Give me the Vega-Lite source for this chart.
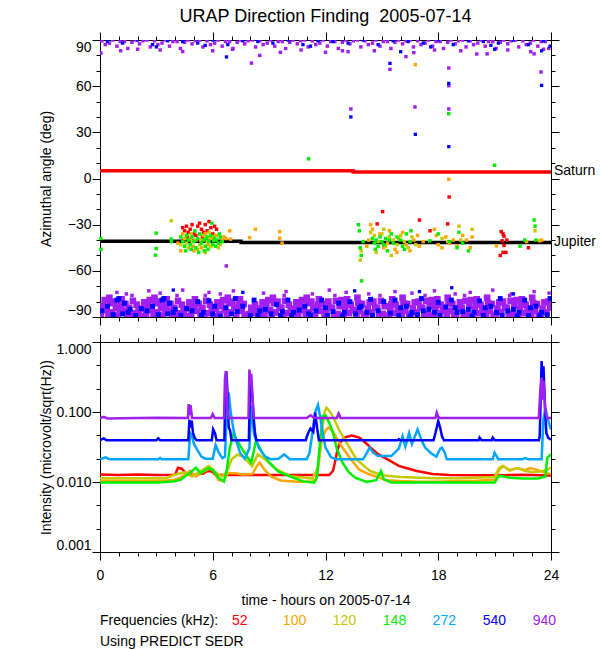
{
  "$schema": "https://vega.github.io/schema/vega-lite/v6.json",
  "background": "white",
  "padding": {"left": 38, "top": 7, "right": 0, "bottom": 0},
  "spacing": 7,
  "config": {
    "font": "Liberation Sans",
    "view": {"stroke": null},
    "axis": {"domainColor": "black", "tickColor": "black", "labelColor": "black", "titleColor": "black", "labelFont": "Liberation Sans", "titleFont": "Liberation Sans", "labelFontSize": 14, "titleFontSize": 14, "titleFontWeight": "normal", "grid": false, "domainWidth": 1, "tickWidth": 1},
    "title": {"font": "Liberation Sans", "fontSize": 18, "fontWeight": "normal", "color": "black"},
    "text": {"font": "Liberation Sans"}
  },
  "datasets": {
    "p940": [
      {"t":0.05,"a":-88},{"t":0.15,"a":-83},{"t":0.25,"a":-79},
      {"t":0.35,"a":-85.5},{"t":0.45,"a":-89.5},{"t":0.55,"a":-81},{"t":0.5,"a":-77.5},
      {"t":0.65,"a":-87},{"t":0.75,"a":-80},{"t":0.85,"a":-84},
      {"t":0.95,"a":-89},{"t":1.05,"a":-85},{"t":1.15,"a":-78.5},{"t":1.1,"a":-82},
      {"t":1.25,"a":-86},{"t":1.35,"a":-81.5},{"t":1.45,"a":-88.5},
      {"t":1.55,"a":-84},{"t":1.65,"a":-89},{"t":1.75,"a":-79.5},{"t":1.7,"a":-76},
      {"t":1.85,"a":-87.5},{"t":1.95,"a":-82},{"t":2.05,"a":-85.5},
      {"t":2.15,"a":-89.5},{"t":2.25,"a":-84.5},{"t":2.35,"a":-80.5},
      {"t":2.45,"a":-88},{"t":2.55,"a":-83},{"t":2.65,"a":-79},
      {"t":2.75,"a":-85.5},{"t":2.85,"a":-89.5},{"t":2.95,"a":-81},{"t":2.9,"a":-77.5},
      {"t":3.05,"a":-87},{"t":3.15,"a":-80},{"t":3.25,"a":-84},
      {"t":3.35,"a":-89},{"t":3.45,"a":-85},{"t":3.55,"a":-78.5},{"t":3.5,"a":-82},
      {"t":3.65,"a":-86},{"t":3.75,"a":-81.5},{"t":3.85,"a":-88.5},
      {"t":3.95,"a":-84},{"t":4.05,"a":-89},{"t":4.15,"a":-79.5},{"t":4.1,"a":-76},
      {"t":4.25,"a":-87.5},{"t":4.35,"a":-82},{"t":4.45,"a":-85.5},
      {"t":4.55,"a":-89.5},{"t":4.65,"a":-84.5},{"t":4.75,"a":-80.5},
      {"t":4.85,"a":-89},{"t":4.95,"a":-85},{"t":5.05,"a":-78.5},{"t":5.0,"a":-82},
      {"t":5.15,"a":-86},{"t":5.25,"a":-81.5},{"t":5.35,"a":-88.5},
      {"t":5.45,"a":-84},{"t":5.55,"a":-89},{"t":5.65,"a":-79.5},{"t":5.6,"a":-76},
      {"t":5.75,"a":-87.5},{"t":5.85,"a":-82},{"t":5.95,"a":-85.5},
      {"t":6.05,"a":-89.5},{"t":6.15,"a":-84.5},{"t":6.25,"a":-80.5},
      {"t":6.35,"a":-88},{"t":6.45,"a":-83},{"t":6.55,"a":-79},
      {"t":6.65,"a":-85.5},{"t":6.75,"a":-89.5},{"t":6.85,"a":-81},{"t":6.8,"a":-77.5},
      {"t":6.95,"a":-87},{"t":7.05,"a":-80},{"t":7.15,"a":-84},
      {"t":7.25,"a":-89},{"t":7.35,"a":-85},{"t":7.45,"a":-78.5},{"t":7.4,"a":-82},
      {"t":7.55,"a":-86},{"t":7.65,"a":-81.5},{"t":7.7,"a":-88.5},
      {"t":7.95,"a":-88},{"t":8.05,"a":-84},
      {"t":8.15,"a":-87.5},{"t":8.25,"a":-82},{"t":8.35,"a":-85.5},
      {"t":8.45,"a":-89.5},{"t":8.55,"a":-84.5},{"t":8.65,"a":-80.5},
      {"t":8.75,"a":-88},{"t":8.85,"a":-83},{"t":8.95,"a":-79},
      {"t":9.05,"a":-85.5},{"t":9.15,"a":-89.5},{"t":9.25,"a":-81},{"t":9.2,"a":-77.5},
      {"t":9.35,"a":-87},{"t":9.45,"a":-80},{"t":9.55,"a":-84},
      {"t":9.65,"a":-84},{"t":9.75,"a":-89},{"t":9.85,"a":-79.5},{"t":9.8,"a":-76},
      {"t":9.95,"a":-87.5},{"t":10.05,"a":-82},{"t":10.15,"a":-85.5},
      {"t":10.25,"a":-89.5},{"t":10.35,"a":-84.5},{"t":10.45,"a":-80.5},
      {"t":10.55,"a":-88},{"t":10.65,"a":-83},{"t":10.75,"a":-79},
      {"t":10.85,"a":-85.5},{"t":10.95,"a":-89.5},{"t":11.05,"a":-81},{"t":11.0,"a":-77.5},
      {"t":11.15,"a":-87},{"t":11.25,"a":-80},{"t":11.35,"a":-84},
      {"t":11.45,"a":-89},{"t":11.55,"a":-85},{"t":11.65,"a":-78.5},{"t":11.6,"a":-82},
      {"t":11.75,"a":-86},{"t":11.85,"a":-81.5},{"t":11.95,"a":-88.5},
      {"t":12.05,"a":-87},{"t":12.15,"a":-80},{"t":12.25,"a":-84},
      {"t":12.35,"a":-84},{"t":12.45,"a":-89},{"t":12.55,"a":-79.5},{"t":12.5,"a":-76},
      {"t":12.65,"a":-88},{"t":12.75,"a":-83},{"t":12.85,"a":-79},
      {"t":12.95,"a":-89},{"t":13.05,"a":-85},{"t":13.15,"a":-78.5},{"t":13.1,"a":-82},
      {"t":13.25,"a":-87.5},{"t":13.35,"a":-82},{"t":13.45,"a":-85.5},
      {"t":13.55,"a":-85.5},{"t":13.65,"a":-89.5},{"t":13.75,"a":-81},{"t":13.7,"a":-77.5},
      {"t":13.85,"a":-86},{"t":13.95,"a":-81.5},{"t":14.05,"a":-88.5},
      {"t":14.15,"a":-89.5},{"t":14.25,"a":-84.5},{"t":14.35,"a":-80.5},
      {"t":14.45,"a":-87},{"t":14.55,"a":-80},{"t":14.65,"a":-84},
      {"t":14.75,"a":-84},{"t":14.85,"a":-89},{"t":14.95,"a":-79.5},{"t":14.9,"a":-76},
      {"t":15.05,"a":-88},{"t":15.15,"a":-83},
      {"t":15.4,"a":-89},{"t":15.45,"a":-85},{"t":15.55,"a":-78.5},{"t":15.5,"a":-82},
      {"t":15.65,"a":-87.5},{"t":15.75,"a":-82},{"t":15.85,"a":-85.5},
      {"t":15.95,"a":-85.5},{"t":16.05,"a":-89.5},{"t":16.15,"a":-81},{"t":16.1,"a":-77.5},
      {"t":16.25,"a":-86},{"t":16.35,"a":-81.5},{"t":16.45,"a":-88.5},
      {"t":16.55,"a":-89.5},{"t":16.65,"a":-84.5},{"t":16.75,"a":-80.5},
      {"t":16.85,"a":-87},{"t":16.95,"a":-80},{"t":17.05,"a":-84},
      {"t":17.15,"a":-84},{"t":17.25,"a":-89},{"t":17.35,"a":-79.5},{"t":17.3,"a":-76},
      {"t":17.45,"a":-88},{"t":17.55,"a":-83},{"t":17.65,"a":-79},
      {"t":17.75,"a":-89},{"t":17.85,"a":-85},{"t":17.95,"a":-78.5},{"t":17.9,"a":-82},
      {"t":18.05,"a":-87.5},{"t":18.15,"a":-82},{"t":18.25,"a":-85.5},
      {"t":18.35,"a":-85.5},{"t":18.45,"a":-89.5},{"t":18.55,"a":-81},{"t":18.5,"a":-77.5},
      {"t":18.65,"a":-86},{"t":18.75,"a":-81.5},{"t":18.85,"a":-88.5},
      {"t":18.95,"a":-89.5},{"t":19.05,"a":-84.5},{"t":19.15,"a":-80.5},
      {"t":19.25,"a":-84},{"t":19.35,"a":-89},{"t":19.45,"a":-79.5},{"t":19.4,"a":-76},
      {"t":19.55,"a":-88},{"t":19.65,"a":-83},{"t":19.75,"a":-79},
      {"t":19.85,"a":-89},{"t":19.95,"a":-85},{"t":20.05,"a":-78.5},{"t":20.0,"a":-82},
      {"t":20.15,"a":-87.5},{"t":20.25,"a":-82},{"t":20.35,"a":-85.5},
      {"t":20.45,"a":-85.5},{"t":20.55,"a":-89.5},{"t":20.65,"a":-81},{"t":20.6,"a":-77.5},
      {"t":20.75,"a":-86},{"t":20.85,"a":-81.5},{"t":20.95,"a":-88.5},
      {"t":21.05,"a":-89.5},{"t":21.15,"a":-84.5},{"t":21.25,"a":-80.5},
      {"t":21.35,"a":-87},{"t":21.45,"a":-80},{"t":21.55,"a":-84},
      {"t":21.65,"a":-84},{"t":21.75,"a":-89},{"t":21.85,"a":-79.5},{"t":21.8,"a":-76},
      {"t":21.95,"a":-88},{"t":22.05,"a":-83},{"t":22.15,"a":-79},
      {"t":22.25,"a":-89},{"t":22.35,"a":-85},{"t":22.45,"a":-78.5},{"t":22.4,"a":-82},
      {"t":22.55,"a":-87.5},{"t":22.65,"a":-82},{"t":22.75,"a":-85.5},
      {"t":22.85,"a":-85.5},{"t":22.95,"a":-89.5},{"t":23.05,"a":-81},{"t":23.0,"a":-77.5},
      {"t":23.15,"a":-86},{"t":23.25,"a":-81.5},{"t":23.35,"a":-88.5},
      {"t":23.45,"a":-89.5},{"t":23.55,"a":-84.5},{"t":23.65,"a":-80.5},
      {"t":23.75,"a":-87},{"t":23.85,"a":-80},{"t":23.95,"a":-84},
      {"t":0.9,"a":-74},{"t":1.4,"a":-75},{"t":2.6,"a":-73},{"t":3.2,"a":-74.5},{"t":4.4,"a":-72.5},{"t":5.8,"a":-74},{"t":6.4,"a":-75},{"t":7.1,"a":-73},{"t":8.7,"a":-74.5},{"t":9.9,"a":-73.5},{"t":11.3,"a":-75},{"t":12.2,"a":-72.5},{"t":13.1,"a":-74},{"t":14.3,"a":-75},{"t":15.7,"a":-73.5},{"t":16.6,"a":-74.5},{"t":17.8,"a":-73},{"t":18.9,"a":-75},{"t":19.7,"a":-74},{"t":20.9,"a":-72.5},{"t":21.9,"a":-75},{"t":23.1,"a":-73.5},{"t":23.9,"a":-74.5},
      {"t":6.72,"a":-56.8},
      {"t":0.1,"a":89.5},{"t":0.28,"a":87},{"t":0.5,"a":88},{"t":0.68,"a":90},{"t":0.9,"a":86},{"t":1.08,"a":89},{"t":1.3,"a":89},{"t":1.48,"a":84.5},
      {"t":1.7,"a":88.5},{"t":1.88,"a":90},{"t":2.1,"a":87.5},{"t":2.28,"a":89.5},{"t":2.5,"a":90},{"t":2.68,"a":85.5},{"t":2.9,"a":89.5},{"t":3.08,"a":87},
      {"t":3.3,"a":88},{"t":3.48,"a":90},{"t":3.7,"a":86},{"t":3.88,"a":89},{"t":4.1,"a":89},{"t":4.28,"a":84.5},{"t":4.5,"a":88.5},{"t":4.68,"a":90},
      {"t":4.9,"a":87.5},{"t":5.08,"a":89.5},{"t":5.3,"a":90},{"t":5.48,"a":85.5},{"t":5.7,"a":89.5},{"t":5.88,"a":87},{"t":6.1,"a":88},{"t":6.28,"a":90},
      {"t":6.5,"a":86},{"t":6.68,"a":89},{"t":6.9,"a":89},{"t":7.08,"a":84.5},{"t":7.3,"a":88.5},{"t":7.48,"a":90},{"t":7.7,"a":87.5},{"t":7.88,"a":89.5},
      {"t":8.1,"a":90},{"t":8.28,"a":85.5},{"t":8.5,"a":89.5},{"t":8.68,"a":87},{"t":8.9,"a":88},{"t":9.08,"a":90},{"t":9.3,"a":86},{"t":9.48,"a":89},
      {"t":9.7,"a":89},{"t":9.88,"a":84.5},{"t":10.1,"a":88.5},{"t":10.28,"a":90},{"t":10.5,"a":87.5},{"t":10.68,"a":89.5},{"t":10.9,"a":90},{"t":11.08,"a":85.5},
      {"t":11.3,"a":89.5},{"t":11.48,"a":87},{"t":11.7,"a":88},{"t":11.88,"a":90},{"t":12.1,"a":86},{"t":12.28,"a":89},{"t":12.5,"a":89},{"t":12.68,"a":84.5},
      {"t":12.9,"a":88.5},{"t":13.08,"a":90},{"t":13.3,"a":87.5},{"t":13.48,"a":89.5},{"t":13.7,"a":90},{"t":13.88,"a":85.5},{"t":14.1,"a":89.5},{"t":14.28,"a":87},
      {"t":14.5,"a":88},{"t":14.68,"a":90},{"t":14.9,"a":86},{"t":15.08,"a":89},{"t":15.3,"a":89},{"t":15.48,"a":84.5},{"t":15.7,"a":88.5},{"t":15.88,"a":90},
      {"t":16.1,"a":87.5},{"t":16.28,"a":89.5},{"t":16.5,"a":90},{"t":16.68,"a":85.5},{"t":16.9,"a":89.5},{"t":17.08,"a":87},{"t":17.3,"a":88},{"t":17.48,"a":90},
      {"t":17.7,"a":86},{"t":17.88,"a":89},{"t":18.1,"a":89},{"t":18.28,"a":84.5},{"t":18.5,"a":88.5},{"t":18.68,"a":90},{"t":18.9,"a":87.5},{"t":19.08,"a":89.5},
      {"t":19.3,"a":90},{"t":19.48,"a":85.5},{"t":19.7,"a":89.5},{"t":19.88,"a":87},{"t":20.1,"a":88},{"t":20.28,"a":90},{"t":20.5,"a":86},{"t":20.68,"a":89},
      {"t":20.9,"a":89},{"t":21.08,"a":84.5},{"t":21.3,"a":88.5},{"t":21.48,"a":90},{"t":21.7,"a":87.5},{"t":21.88,"a":89.5},{"t":22.1,"a":90},{"t":22.28,"a":85.5},
      {"t":22.5,"a":89.5},{"t":22.68,"a":87},{"t":22.9,"a":88},{"t":23.08,"a":90},{"t":23.3,"a":86},{"t":23.48,"a":89},{"t":23.7,"a":89},{"t":23.88,"a":84.5},
      {"t":0.05,"a":81.5},{"t":1.1,"a":83},{"t":2.0,"a":84},{"t":3.2,"a":83.5},{"t":4.4,"a":82.5},{"t":6.0,"a":83},{"t":7.05,"a":84},{"t":8.06,"a":75},{"t":8.5,"a":80},{"t":9.6,"a":82},{"t":10.7,"a":83.5},{"t":12.0,"a":82},{"t":12.9,"a":83},{"t":13.2,"a":82.4},{"t":14.6,"a":83},{"t":15.43,"a":70.9},{"t":16.28,"a":79.2},{"t":16.7,"a":81.8},{"t":17.8,"a":83.5},{"t":18.56,"a":71.8},{"t":18.56,"a":60.3},{"t":19.2,"a":83},{"t":20.05,"a":80.9},{"t":20.6,"a":81},{"t":21.7,"a":83.5},{"t":22.92,"a":82.4},{"t":23.47,"a":69.2},{"t":23.6,"a":84},{"t":13.35,"a":45.2},{"t":16.76,"a":46.5},{"t":18.56,"a":45.2},{"t":23.1,"a":81}
    ],
    "p540": [
      {"t":0.1,"a":-86},{"t":0.4,"a":-83},{"t":0.7,"a":-88.5},{"t":0.9,"a":-79},{"t":1.0,"a":-78},{"t":1.2,"a":-88},{"t":1.3,"a":-81},{"t":1.5,"a":-87},{"t":1.6,"a":-85},{"t":1.9,"a":-89},{"t":2.2,"a":-84.5},{"t":2.5,"a":-86},{"t":2.8,"a":-83},{"t":3.1,"a":-88.5},{"t":3.3,"a":-79},{"t":3.4,"a":-78},{"t":3.6,"a":-88},{"t":3.7,"a":-81},{"t":3.9,"a":-87},{"t":4.0,"a":-85},
      {"t":4.3,"a":-89},{"t":4.6,"a":-84.5},{"t":4.9,"a":-86},{"t":5.2,"a":-80},{"t":5.4,"a":-89},{"t":5.5,"a":-87},{"t":5.8,"a":-79.5},{"t":6.0,"a":-88},{"t":6.1,"a":-83},{"t":6.4,"a":-89.5},{"t":6.7,"a":-84},{"t":7.0,"a":-88},{"t":7.2,"a":-78},{"t":7.3,"a":-86.5},{"t":7.6,"a":-83},{"t":8.0,"a":-89},{"t":8.2,"a":-79},{"t":8.4,"a":-89},{"t":8.5,"a":-86},{"t":8.8,"a":-85},
      {"t":9.1,"a":-88},{"t":9.4,"a":-82},{"t":9.6,"a":-89},{"t":9.7,"a":-86.5},{"t":10.0,"a":-79},{"t":10.2,"a":-89},{"t":10.3,"a":-87},{"t":10.6,"a":-85.5},{"t":10.9,"a":-83},{"t":11.1,"a":-88},{"t":11.2,"a":-89},{"t":11.5,"a":-86},{"t":11.8,"a":-79},{"t":12.0,"a":-84},{"t":12.1,"a":-89},{"t":12.4,"a":-86.5},{"t":12.7,"a":-81},{"t":12.9,"a":-89.5},{"t":13.0,"a":-87},{"t":13.3,"a":-80},
      {"t":13.6,"a":-88},{"t":13.8,"a":-84},{"t":13.9,"a":-83},{"t":14.2,"a":-87},{"t":14.4,"a":-78.5},{"t":14.5,"a":-89},{"t":14.8,"a":-86},{"t":15.1,"a":-80},{"t":15.45,"a":-87.5},{"t":15.7,"a":-79},{"t":15.9,"a":-89},{"t":16.0,"a":-84},{"t":16.3,"a":-83},{"t":16.5,"a":-89.5},{"t":16.6,"a":-87},{"t":16.9,"a":-88.5},{"t":17.1,"a":-78},{"t":17.2,"a":-86},{"t":17.5,"a":-85},{"t":17.8,"a":-87},
      {"t":18.0,"a":-80.5},{"t":18.1,"a":-89},{"t":18.4,"a":-83.5},{"t":18.7,"a":-79},{"t":18.9,"a":-84},{"t":19.0,"a":-87},{"t":19.3,"a":-86.5},{"t":19.6,"a":-85},{"t":19.8,"a":-89.5},{"t":19.9,"a":-87},{"t":20.2,"a":-79.5},{"t":20.4,"a":-89},{"t":20.5,"a":-84},{"t":20.8,"a":-83},{"t":21.1,"a":-87},{"t":21.3,"a":-78},{"t":21.4,"a":-89},{"t":21.7,"a":-86},{"t":22.0,"a":-85},{"t":22.2,"a":-89.5},
      {"t":22.3,"a":-87},{"t":22.6,"a":-79},{"t":22.8,"a":-89},{"t":22.9,"a":-84},{"t":23.2,"a":-83},{"t":23.4,"a":-89},{"t":23.5,"a":-87},{"t":23.8,"a":-88.5},{"t":23.95,"a":-78},
      {"t":3.9,"a":-72.5},{"t":7.6,"a":-74},{"t":13.55,"a":-73},{"t":17.0,"a":-73.5},{"t":18.72,"a":-71},{"t":22.0,"a":-75},
      {"t":0.4,"a":89},{"t":1.2,"a":88},{"t":2.0,"a":90},{"t":2.8,"a":87},{"t":3.6,"a":89.5},{"t":4.4,"a":89},{"t":5.2,"a":88},{"t":6.0,"a":90},{"t":6.8,"a":87},{"t":7.6,"a":89.5},{"t":8.4,"a":89},{"t":9.2,"a":88},{"t":10.0,"a":90},{"t":10.8,"a":87},{"t":11.6,"a":89.5},
      {"t":12.4,"a":89},{"t":13.2,"a":88},{"t":14.0,"a":90},{"t":14.8,"a":87},{"t":15.6,"a":89.5},{"t":16.4,"a":89},{"t":17.2,"a":88},{"t":18.0,"a":90},{"t":18.8,"a":87},{"t":19.6,"a":89.5},{"t":20.4,"a":89},{"t":21.2,"a":88},{"t":22.0,"a":90},{"t":22.8,"a":87},{"t":23.6,"a":89.5},{"t":23.95,"a":86},
      {"t":6.73,"a":79},{"t":15.43,"a":74.8},{"t":16.0,"a":82.4},{"t":18.56,"a":61.8},{"t":21.0,"a":84},{"t":23.5,"a":83},{"t":23.5,"a":60.5},{"t":13.35,"a":40},{"t":16.78,"a":28.7},{"t":18.56,"a":20.7},{"t":11.2,"a":86},{"t":5.6,"a":86.5},{"t":17.6,"a":85.5},{"t":20.8,"a":86.5},{"t":3.0,"a":85.5}
    ],
    "cl": [
      {"f":"52","t":4.4,"a":-32},{"f":"52","t":4.5,"a":-34},{"f":"52","t":4.6,"a":-31},{"f":"52","t":4.7,"a":-35},{"f":"52","t":4.8,"a":-33},{"f":"52","t":4.9,"a":-30},{"f":"52","t":5.0,"a":-36},{"f":"52","t":5.2,"a":-31},{"f":"52","t":5.3,"a":-29},{"f":"52","t":5.4,"a":-33},{"f":"52","t":5.5,"a":-35},{"f":"52","t":5.6,"a":-30},{"f":"52","t":5.7,"a":-34},{"f":"52","t":5.8,"a":-28},{"f":"52","t":5.9,"a":-32},{"f":"52","t":6.0,"a":-36},{"f":"52","t":6.1,"a":-31},{"f":"52","t":6.2,"a":-33},{"f":"52","t":4.65,"a":-38},{"f":"52","t":5.1,"a":-37},{"f":"52","t":5.45,"a":-38},{"f":"52","t":4.45,"a":-40},
      {"f":"52","t":14.75,"a":-29.5},{"f":"52","t":15.04,"a":-21.5},{"f":"52","t":17.0,"a":-27},{"f":"52","t":17.56,"a":-34},{"f":"52","t":18.5,"a":-29.5},{"f":"52","t":18.58,"a":-12},
      {"f":"52","t":21.35,"a":-34.5},{"f":"52","t":21.45,"a":-36},{"f":"52","t":21.5,"a":-37.5},{"f":"52","t":21.4,"a":-40.5},{"f":"52","t":21.5,"a":-43.5},{"f":"52","t":21.45,"a":-48},{"f":"52","t":21.3,"a":-50},{"f":"52","t":21.6,"a":-48},{"f":"52","t":21.65,"a":-40},{"f":"52","t":22.8,"a":-45},
      {"f":"100","t":4.4,"a":-36},{"f":"100","t":4.8,"a":-39},{"f":"100","t":5.0,"a":-47},{"f":"100","t":5.4,"a":-45},{"f":"100","t":5.6,"a":-36},{"f":"100","t":5.9,"a":-39},{"f":"100","t":6.2,"a":-37},{"f":"100","t":6.5,"a":-40},{"f":"100","t":6.6,"a":-38},{"f":"100","t":4.95,"a":-44},{"f":"100","t":5.35,"a":-40},{"f":"100","t":4.3,"a":-47},{"f":"100","t":5.75,"a":-43},{"f":"100","t":6.7,"a":-39},{"f":"100","t":4.15,"a":-42},
      {"f":"100","t":6.95,"a":-39.4},{"f":"100","t":6.9,"a":-34},{"f":"100","t":7.96,"a":-38.4},{"f":"100","t":8.27,"a":-33},{"f":"100","t":9.56,"a":-34.5},{"f":"100","t":9.56,"a":-38.8},{"f":"100","t":9.69,"a":-42},
      {"f":"100","t":14.3,"a":-40},{"f":"100","t":14.5,"a":-33},{"f":"100","t":14.9,"a":-36},{"f":"100","t":15.1,"a":-45},{"f":"100","t":15.3,"a":-42},{"f":"100","t":15.7,"a":-46},{"f":"100","t":15.9,"a":-39},{"f":"100","t":16.1,"a":-35},{"f":"100","t":16.3,"a":-43},{"f":"100","t":16.7,"a":-40},{"f":"100","t":16.9,"a":-37},{"f":"100","t":17.0,"a":-44},{"f":"100","t":14.4,"a":-30},{"f":"100","t":15.4,"a":-34},{"f":"100","t":15.8,"a":-48},{"f":"100","t":16.5,"a":-47},{"f":"100","t":14.2,"a":-44},{"f":"100","t":17.2,"a":-41},
      {"f":"100","t":17.8,"a":-33},{"f":"100","t":17.9,"a":-37},{"f":"100","t":18.0,"a":-43},{"f":"100","t":18.2,"a":-45},{"f":"100","t":18.4,"a":-38},{"f":"100","t":18.6,"a":-42},{"f":"100","t":18.8,"a":-40},{"f":"100","t":19.0,"a":-44},{"f":"100","t":19.3,"a":-37},{"f":"100","t":19.5,"a":-40},{"f":"100","t":19.7,"a":-45},{"f":"100","t":19.8,"a":-38},{"f":"100","t":22.7,"a":-41},{"f":"100","t":23.5,"a":-40},{"f":"100","t":21.1,"a":-43.8},{"f":"100","t":23.4,"a":-40.5},{"f":"100","t":18.56,"a":-0.5},{"f":"100","t":16.78,"a":74},
      {"f":"120","t":3.79,"a":-27.5},{"f":"120","t":4.3,"a":-43},{"f":"120","t":4.5,"a":-39},{"f":"120","t":4.7,"a":-45},{"f":"120","t":4.9,"a":-41},{"f":"120","t":5.1,"a":-40},{"f":"120","t":5.3,"a":-43},{"f":"120","t":5.5,"a":-37},{"f":"120","t":5.7,"a":-41},{"f":"120","t":5.9,"a":-44},{"f":"120","t":6.1,"a":-38},{"f":"120","t":6.3,"a":-45},{"f":"120","t":4.6,"a":-42},{"f":"120","t":5.2,"a":-46},{"f":"120","t":5.8,"a":-35},{"f":"120","t":6.0,"a":-39},{"f":"120","t":4.85,"a":-36},{"f":"120","t":5.6,"a":-48},{"f":"120","t":6.4,"a":-43},
      {"f":"120","t":14.4,"a":-35},{"f":"120","t":14.6,"a":-37},{"f":"120","t":14.8,"a":-41},{"f":"120","t":15.0,"a":-36},{"f":"120","t":15.2,"a":-44},{"f":"120","t":15.4,"a":-38},{"f":"120","t":15.6,"a":-40},{"f":"120","t":15.8,"a":-43},{"f":"120","t":16.0,"a":-37},{"f":"120","t":16.2,"a":-41},{"f":"120","t":16.4,"a":-45},{"f":"120","t":14.7,"a":-48},{"f":"120","t":15.5,"a":-50},{"f":"120","t":13.9,"a":-47},{"f":"120","t":13.85,"a":-53},{"f":"120","t":15.1,"a":-33},{"f":"120","t":16.6,"a":-38},{"f":"120","t":16.8,"a":-43},
      {"f":"120","t":18.5,"a":-41},{"f":"120","t":19.2,"a":-40},{"f":"120","t":19.8,"a":-33},{"f":"120","t":19.1,"a":-31},{"f":"120","t":18.2,"a":-39},{"f":"120","t":23.15,"a":-34},
      {"f":"148","t":0.05,"a":-39},{"f":"148","t":0.05,"a":-46},{"f":"148","t":2.99,"a":-35.5},{"f":"148","t":2.99,"a":-45.5},{"f":"148","t":2.95,"a":-49.8},{"f":"148","t":3.79,"a":-39.4},{"f":"148","t":3.8,"a":-41},
      {"f":"148","t":4.3,"a":-38},{"f":"148","t":4.4,"a":-41},{"f":"148","t":4.5,"a":-44},{"f":"148","t":4.6,"a":-37},{"f":"148","t":4.7,"a":-40},{"f":"148","t":4.8,"a":-43},{"f":"148","t":4.9,"a":-38},{"f":"148","t":5.0,"a":-41},{"f":"148","t":5.1,"a":-45},{"f":"148","t":5.2,"a":-39},{"f":"148","t":5.3,"a":-36},{"f":"148","t":5.4,"a":-42},{"f":"148","t":5.5,"a":-40},{"f":"148","t":5.6,"a":-44},{"f":"148","t":5.7,"a":-38},{"f":"148","t":5.8,"a":-41},{"f":"148","t":5.9,"a":-37},{"f":"148","t":6.0,"a":-43},{"f":"148","t":6.1,"a":-39},{"f":"148","t":6.2,"a":-40},{"f":"148","t":6.3,"a":-42},{"f":"148","t":6.4,"a":-38},
      {"f":"148","t":5.05,"a":-34},{"f":"148","t":5.75,"a":-46},{"f":"148","t":5.55,"a":-47},{"f":"148","t":4.85,"a":-46},{"f":"148","t":6.35,"a":-36},{"f":"148","t":6.5,"a":-41},{"f":"148","t":5.25,"a":-48},{"f":"148","t":5.95,"a":-29},{"f":"148","t":6.05,"a":-40.5},{"f":"148","t":5.65,"a":-39},{"f":"148","t":4.55,"a":-47},{"f":"148","t":6.15,"a":-44},
      {"f":"148","t":11.1,"a":12.8},{"f":"148","t":21.0,"a":8.6},{"f":"148","t":13.92,"a":-66.5},{"f":"148","t":18.56,"a":42.1},
      {"f":"148","t":13.75,"a":-30},{"f":"148","t":13.8,"a":-34},{"f":"148","t":13.85,"a":-45},{"f":"148","t":14.0,"a":-41},{"f":"148","t":14.5,"a":-39},{"f":"148","t":14.6,"a":-42},{"f":"148","t":14.7,"a":-40},{"f":"148","t":14.8,"a":-44},{"f":"148","t":14.9,"a":-38},{"f":"148","t":15.0,"a":-41},{"f":"148","t":15.1,"a":-43},{"f":"148","t":15.2,"a":-39},{"f":"148","t":15.4,"a":-40},{"f":"148","t":15.6,"a":-42},{"f":"148","t":15.8,"a":-38},{"f":"148","t":16.0,"a":-40},{"f":"148","t":16.1,"a":-44},{"f":"148","t":16.3,"a":-36},{"f":"148","t":15.3,"a":-47},{"f":"148","t":14.65,"a":-46},{"f":"148","t":16.5,"a":-41},{"f":"148","t":13.9,"a":-50},{"f":"148","t":16.55,"a":-34},{"f":"148","t":16.2,"a":-46},{"f":"148","t":15.5,"a":-36},
      {"f":"148","t":18.0,"a":-36},{"f":"148","t":18.6,"a":-41},{"f":"148","t":19.1,"a":-35},{"f":"148","t":19.3,"a":-42},{"f":"148","t":19.0,"a":-45},{"f":"148","t":19.6,"a":-47},{"f":"148","t":22.35,"a":-44},{"f":"148","t":22.6,"a":-40},{"f":"148","t":23.1,"a":-27},{"f":"148","t":23.15,"a":-31},{"f":"148","t":23.2,"a":-40},{"f":"148","t":17.55,"a":-40.5}
    ],
    "ref": [
      {"b":"S","t":0,"a":5},{"b":"S","t":13.47,"a":5},{"b":"S","t":13.47,"a":4.2},{"b":"S","t":24,"a":4.2},
      {"b":"J","t":0,"a":-40.8},{"b":"J","t":7.5,"a":-40.8},{"b":"J","t":7.5,"a":-41.6},{"b":"J","t":24,"a":-41.6}
    ],
    "lab": [
      {"t":24,"a":5,"n":"Saturn"},{"t":24,"a":-41,"n":"Jupiter"}
    ],
    "ser": [
      {"f":"52","t":0,"v":0.0128},{"f":"52","t":1,"v":0.0126},{"f":"52","t":2,"v":0.0128},{"f":"52","t":3,"v":0.0126},{"f":"52","t":4,"v":0.0127},{"f":"52","t":4.15,"v":0.016},{"f":"52","t":4.35,"v":0.0155},{"f":"52","t":4.55,"v":0.0135},{"f":"52","t":4.8,"v":0.0126},{"f":"52","t":5.5,"v":0.0132},{"f":"52","t":5.7,"v":0.0144},{"f":"52","t":5.95,"v":0.0142},{"f":"52","t":6.15,"v":0.0126},{"f":"52","t":9,"v":0.0126},{"f":"52","t":12.2,"v":0.0126},{"f":"52","t":12.4,"v":0.0145},{"f":"52","t":12.5,"v":0.019},{"f":"52","t":12.6,"v":0.026},{"f":"52","t":12.75,"v":0.036},{"f":"52","t":13,"v":0.043},{"f":"52","t":13.4,"v":0.046},{"f":"52","t":13.8,"v":0.043},{"f":"52","t":14.1,"v":0.037},{"f":"52","t":14.4,"v":0.031},{"f":"52","t":14.8,"v":0.025},{"f":"52","t":15.3,"v":0.021},{"f":"52","t":15.9,"v":0.017},{"f":"52","t":16.8,"v":0.0145},{"f":"52","t":17.7,"v":0.013},{"f":"52","t":18.6,"v":0.0126},{"f":"52","t":20,"v":0.0125},{"f":"52","t":21.5,"v":0.0125},{"f":"52","t":22.5,"v":0.0127},{"f":"52","t":24,"v":0.0124},
      {"f":"100","t":0,"v":0.0104},{"f":"100","t":3.5,"v":0.0104},{"f":"100","t":4,"v":0.0108},{"f":"100","t":4.4,"v":0.012},{"f":"100","t":4.8,"v":0.0144},{"f":"100","t":5.1,"v":0.012},{"f":"100","t":5.3,"v":0.013},{"f":"100","t":5.8,"v":0.0155},{"f":"100","t":6,"v":0.015},{"f":"100","t":6.3,"v":0.0107},{"f":"100","t":6.55,"v":0.0103},{"f":"100","t":6.8,"v":0.0133},{"f":"100","t":7.2,"v":0.0133},{"f":"100","t":7.6,"v":0.0128},{"f":"100","t":8.1,"v":0.013},{"f":"100","t":8.35,"v":0.017},{"f":"100","t":8.5,"v":0.019},{"f":"100","t":8.75,"v":0.015},{"f":"100","t":9.1,"v":0.012},{"f":"100","t":9.6,"v":0.0105},{"f":"100","t":10.5,"v":0.0101},{"f":"100","t":11.3,"v":0.0101},{"f":"100","t":11.5,"v":0.0108},{"f":"100","t":11.65,"v":0.02},{"f":"100","t":11.8,"v":0.04},{"f":"100","t":12,"v":0.055},{"f":"100","t":12.15,"v":0.06},{"f":"100","t":12.35,"v":0.055},{"f":"100","t":12.6,"v":0.042},{"f":"100","t":12.9,"v":0.031},{"f":"100","t":13.3,"v":0.022},{"f":"100","t":13.8,"v":0.015},{"f":"100","t":14.3,"v":0.013},{"f":"100","t":14.7,"v":0.012},{"f":"100","t":15.2,"v":0.0106},{"f":"100","t":16,"v":0.0103},{"f":"100","t":17,"v":0.0101},{"f":"100","t":18,"v":0.0101},{"f":"100","t":19,"v":0.0103},{"f":"100","t":20,"v":0.0104},{"f":"100","t":21,"v":0.0108},{"f":"100","t":21.25,"v":0.015},{"f":"100","t":21.45,"v":0.0169},{"f":"100","t":21.8,"v":0.0148},{"f":"100","t":22.2,"v":0.0158},{"f":"100","t":22.6,"v":0.0148},{"f":"100","t":22.9,"v":0.0158},{"f":"100","t":23.3,"v":0.0148},{"f":"100","t":23.7,"v":0.0135},{"f":"100","t":24,"v":0.013},
      {"f":"120","t":0,"v":0.0113},{"f":"120","t":3.5,"v":0.0113},{"f":"120","t":4.1,"v":0.013},{"f":"120","t":4.5,"v":0.0137},{"f":"120","t":4.9,"v":0.012},{"f":"120","t":5.3,"v":0.014},{"f":"120","t":5.8,"v":0.017},{"f":"120","t":6.1,"v":0.014},{"f":"120","t":6.5,"v":0.012},{"f":"120","t":6.75,"v":0.014},{"f":"120","t":7,"v":0.021},{"f":"120","t":7.3,"v":0.0245},{"f":"120","t":7.6,"v":0.0232},{"f":"120","t":8.1,"v":0.0168},{"f":"120","t":8.4,"v":0.025},{"f":"120","t":8.8,"v":0.021},{"f":"120","t":9.4,"v":0.0152},{"f":"120","t":10.1,"v":0.0122},{"f":"120","t":11.3,"v":0.0112},{"f":"120","t":11.6,"v":0.016},{"f":"120","t":11.8,"v":0.05},{"f":"120","t":11.95,"v":0.1},{"f":"120","t":12.05,"v":0.115},{"f":"120","t":12.25,"v":0.1},{"f":"120","t":12.5,"v":0.075},{"f":"120","t":12.7,"v":0.057},{"f":"120","t":13.1,"v":0.037},{"f":"120","t":13.65,"v":0.021},{"f":"120","t":14.35,"v":0.0145},{"f":"120","t":15,"v":0.0125},{"f":"120","t":16,"v":0.0118},{"f":"120","t":17,"v":0.0115},{"f":"120","t":18,"v":0.0113},{"f":"120","t":19,"v":0.0113},{"f":"120","t":20,"v":0.0115},{"f":"120","t":21,"v":0.0118},{"f":"120","t":21.25,"v":0.016},{"f":"120","t":21.45,"v":0.0169},{"f":"120","t":21.8,"v":0.0145},{"f":"120","t":22.2,"v":0.0158},{"f":"120","t":22.6,"v":0.0145},{"f":"120","t":23,"v":0.0138},{"f":"120","t":23.5,"v":0.0142},{"f":"120","t":23.8,"v":0.015},{"f":"120","t":24,"v":0.016},
      {"f":"148","t":0,"v":0.0098},{"f":"148","t":3,"v":0.0098},{"f":"148","t":3.9,"v":0.0102},{"f":"148","t":4.3,"v":0.0108},{"f":"148","t":4.75,"v":0.0133},{"f":"148","t":5.1,"v":0.016},{"f":"148","t":5.35,"v":0.0133},{"f":"148","t":5.75,"v":0.0158},{"f":"148","t":6,"v":0.015},{"f":"148","t":6.3,"v":0.0115},{"f":"148","t":6.6,"v":0.0102},{"f":"148","t":6.75,"v":0.015},{"f":"148","t":6.9,"v":0.03},{"f":"148","t":7.1,"v":0.049},{"f":"148","t":7.43,"v":0.034},{"f":"148","t":7.8,"v":0.0235},{"f":"148","t":8.05,"v":0.019},{"f":"148","t":8.3,"v":0.0385},{"f":"148","t":8.65,"v":0.026},{"f":"148","t":9,"v":0.019},{"f":"148","t":9.5,"v":0.014},{"f":"148","t":10.1,"v":0.012},{"f":"148","t":10.8,"v":0.0102},{"f":"148","t":11.4,"v":0.0098},{"f":"148","t":11.55,"v":0.012},{"f":"148","t":11.7,"v":0.035},{"f":"148","t":11.85,"v":0.088},{"f":"148","t":12,"v":0.09},{"f":"148","t":12.2,"v":0.07},{"f":"148","t":12.4,"v":0.05},{"f":"148","t":12.6,"v":0.03},{"f":"148","t":12.9,"v":0.019},{"f":"148","t":13.25,"v":0.0137},{"f":"148","t":13.6,"v":0.0114},{"f":"148","t":14.2,"v":0.01},{"f":"148","t":14.7,"v":0.0106},{"f":"148","t":14.95,"v":0.0144},{"f":"148","t":15.1,"v":0.011},{"f":"148","t":15.5,"v":0.0098},{"f":"148","t":18,"v":0.0098},{"f":"148","t":21,"v":0.0098},{"f":"148","t":21.2,"v":0.012},{"f":"148","t":21.35,"v":0.0122},{"f":"148","t":21.8,"v":0.0115},{"f":"148","t":22.5,"v":0.0112},{"f":"148","t":23.3,"v":0.0112},{"f":"148","t":23.7,"v":0.012},{"f":"148","t":23.8,"v":0.022},{"f":"148","t":24,"v":0.025},
      {"f":"272","t":0,"v":0.0211},{"f":"272","t":0.3,"v":0.0225},{"f":"272","t":0.5,"v":0.0211},{"f":"272","t":3.1,"v":0.0211},{"f":"272","t":3.2,"v":0.022},{"f":"272","t":3.3,"v":0.0211},{"f":"272","t":4.7,"v":0.0211},{"f":"272","t":4.8,"v":0.05},{"f":"272","t":4.9,"v":0.045},{"f":"272","t":5,"v":0.035},{"f":"272","t":5.2,"v":0.028},{"f":"272","t":5.4,"v":0.023},{"f":"272","t":5.6,"v":0.0215},{"f":"272","t":6,"v":0.0215},{"f":"272","t":6.15,"v":0.0338},{"f":"272","t":6.3,"v":0.027},{"f":"272","t":6.5,"v":0.022},{"f":"272","t":6.65,"v":0.023},{"f":"272","t":6.75,"v":0.1},{"f":"272","t":6.85,"v":0.189},{"f":"272","t":6.95,"v":0.103},{"f":"272","t":7.1,"v":0.0564},{"f":"272","t":7.25,"v":0.0385},{"f":"272","t":7.45,"v":0.0262},{"f":"272","t":7.7,"v":0.0215},{"f":"272","t":7.95,"v":0.03},{"f":"272","t":8.05,"v":0.122},{"f":"272","t":8.2,"v":0.0479},{"f":"272","t":8.45,"v":0.031},{"f":"272","t":8.75,"v":0.0235},{"f":"272","t":9.1,"v":0.0211},{"f":"272","t":9.5,"v":0.0215},{"f":"272","t":9.8,"v":0.0248},{"f":"272","t":10.1,"v":0.0211},{"f":"272","t":11,"v":0.0211},{"f":"272","t":11.15,"v":0.026},{"f":"272","t":11.3,"v":0.05},{"f":"272","t":11.45,"v":0.1},{"f":"272","t":11.6,"v":0.127},{"f":"272","t":11.7,"v":0.09},{"f":"272","t":11.85,"v":0.05},{"f":"272","t":12,"v":0.031},{"f":"272","t":12.3,"v":0.0225},{"f":"272","t":12.6,"v":0.0211},{"f":"272","t":14,"v":0.0211},{"f":"272","t":14.2,"v":0.026},{"f":"272","t":14.35,"v":0.031},{"f":"272","t":14.55,"v":0.026},{"f":"272","t":14.8,"v":0.0235},{"f":"272","t":15.5,"v":0.0235},{"f":"272","t":15.9,"v":0.03},{"f":"272","t":16.1,"v":0.045},{"f":"272","t":16.25,"v":0.032},{"f":"272","t":16.45,"v":0.05},{"f":"272","t":16.6,"v":0.035},{"f":"272","t":16.9,"v":0.0564},{"f":"272","t":17.1,"v":0.04},{"f":"272","t":17.3,"v":0.031},{"f":"272","t":17.6,"v":0.026},{"f":"272","t":17.9,"v":0.023},{"f":"272","t":18.1,"v":0.03},{"f":"272","t":18.2,"v":0.031},{"f":"272","t":18.35,"v":0.026},{"f":"272","t":18.45,"v":0.0211},{"f":"272","t":20.9,"v":0.0211},{"f":"272","t":21,"v":0.0262},{"f":"272","t":21.2,"v":0.0211},{"f":"272","t":22.5,"v":0.0211},{"f":"272","t":22.6,"v":0.022},{"f":"272","t":22.8,"v":0.0211},{"f":"272","t":23.5,"v":0.0211},{"f":"272","t":23.6,"v":0.08},{"f":"272","t":23.7,"v":0.115},{"f":"272","t":23.85,"v":0.075},{"f":"272","t":24,"v":0.0563},
      {"f":"540","t":0,"v":0.0395},{"f":"540","t":0.2,"v":0.042},{"f":"540","t":0.35,"v":0.0395},{"f":"540","t":3,"v":0.0395},{"f":"540","t":3.1,"v":0.042},{"f":"540","t":3.2,"v":0.0395},{"f":"540","t":4.7,"v":0.0395},{"f":"540","t":4.76,"v":0.078},{"f":"540","t":4.82,"v":0.06},{"f":"540","t":4.88,"v":0.075},{"f":"540","t":4.95,"v":0.05},{"f":"540","t":5.05,"v":0.042},{"f":"540","t":5.15,"v":0.0395},{"f":"540","t":5.95,"v":0.0395},{"f":"540","t":6.02,"v":0.0565},{"f":"540","t":6.12,"v":0.05},{"f":"540","t":6.2,"v":0.0395},{"f":"540","t":6.62,"v":0.0395},{"f":"540","t":6.66,"v":0.15},{"f":"540","t":6.72,"v":0.385},{"f":"540","t":6.78,"v":0.2},{"f":"540","t":6.85,"v":0.06},{"f":"540","t":6.92,"v":0.055},{"f":"540","t":7,"v":0.0395},{"f":"540","t":7.92,"v":0.0395},{"f":"540","t":7.98,"v":0.2},{"f":"540","t":8.05,"v":0.248},{"f":"540","t":8.12,"v":0.15},{"f":"540","t":8.18,"v":0.08},{"f":"540","t":8.25,"v":0.05},{"f":"540","t":8.32,"v":0.0395},{"f":"540","t":10.95,"v":0.0395},{"f":"540","t":11.05,"v":0.048},{"f":"540","t":11.2,"v":0.058},{"f":"540","t":11.35,"v":0.052},{"f":"540","t":11.45,"v":0.098},{"f":"540","t":11.55,"v":0.06},{"f":"540","t":11.65,"v":0.0395},{"f":"540","t":15.85,"v":0.0395},{"f":"540","t":15.9,"v":0.041},{"f":"540","t":16,"v":0.0395},{"f":"540","t":17.75,"v":0.0395},{"f":"540","t":17.85,"v":0.05},{"f":"540","t":18,"v":0.074},{"f":"540","t":18.1,"v":0.06},{"f":"540","t":18.2,"v":0.045},{"f":"540","t":18.3,"v":0.0395},{"f":"540","t":20.15,"v":0.0395},{"f":"540","t":20.2,"v":0.043},{"f":"540","t":20.3,"v":0.0395},{"f":"540","t":20.85,"v":0.0395},{"f":"540","t":20.9,"v":0.043},{"f":"540","t":21,"v":0.0395},{"f":"540","t":23.35,"v":0.0395},{"f":"540","t":23.4,"v":0.045},{"f":"540","t":23.5,"v":0.535},{"f":"540","t":23.55,"v":0.3},{"f":"540","t":23.6,"v":0.45},{"f":"540","t":23.68,"v":0.12},{"f":"540","t":23.75,"v":0.05},{"f":"540","t":23.85,"v":0.043},{"f":"540","t":24,"v":0.04},
      {"f":"940","t":0,"v":0.082},{"f":"940","t":0.2,"v":0.085},{"f":"940","t":0.4,"v":0.081},{"f":"940","t":2,"v":0.082},{"f":"940","t":3.1,"v":0.083},{"f":"940","t":4.68,"v":0.082},{"f":"940","t":4.72,"v":0.13},{"f":"940","t":4.78,"v":0.09},{"f":"940","t":4.82,"v":0.125},{"f":"940","t":4.9,"v":0.082},{"f":"940","t":5.9,"v":0.082},{"f":"940","t":6,"v":0.093},{"f":"940","t":6.1,"v":0.082},{"f":"940","t":6.6,"v":0.082},{"f":"940","t":6.65,"v":0.3},{"f":"940","t":6.7,"v":0.385},{"f":"940","t":6.75,"v":0.2},{"f":"940","t":6.8,"v":0.1},{"f":"940","t":6.85,"v":0.082},{"f":"940","t":7.9,"v":0.082},{"f":"940","t":7.95,"v":0.406},{"f":"940","t":8,"v":0.25},{"f":"940","t":8.05,"v":0.35},{"f":"940","t":8.15,"v":0.11},{"f":"940","t":8.2,"v":0.082},{"f":"940","t":11,"v":0.082},{"f":"940","t":11.2,"v":0.09},{"f":"940","t":11.4,"v":0.082},{"f":"940","t":12.6,"v":0.082},{"f":"940","t":12.7,"v":0.095},{"f":"940","t":12.8,"v":0.082},{"f":"940","t":17.85,"v":0.082},{"f":"940","t":17.92,"v":0.098},{"f":"940","t":18,"v":0.085},{"f":"940","t":18.1,"v":0.082},{"f":"940","t":23.35,"v":0.082},{"f":"940","t":23.43,"v":0.2},{"f":"940","t":23.5,"v":0.31},{"f":"940","t":23.55,"v":0.15},{"f":"940","t":23.6,"v":0.28},{"f":"940","t":23.7,"v":0.1},{"f":"940","t":23.8,"v":0.082},{"f":"940","t":24,"v":0.082}
    ],
    "leg": [
      {"t":0,"r":1,"s":"Frequencies (kHz):","c":"k"},
      {"t":7.02,"r":1,"s":"52","c":"52"},
      {"t":9.73,"r":1,"s":"100","c":"100"},
      {"t":12.39,"r":1,"s":"120","c":"120"},
      {"t":15.05,"r":1,"s":"148","c":"148"},
      {"t":17.7,"r":1,"s":"272","c":"272"},
      {"t":20.37,"r":1,"s":"540","c":"540"},
      {"t":23.03,"r":1,"s":"940","c":"940"},
      {"t":0,"r":0,"s":"Using PREDICT SEDR","c":"k"}
    ]
  },
  "vconcat": [
    {
      "width": 451,
      "height": 277,
      "title": {"text": "URAP Direction Finding\u00a0 2005-07-14", "frame": "group", "anchor": "middle", "fontSize": 18, "offset": -8, "baseline": "alphabetic"},
      "encoding": {
        "x": {"field": "t", "type": "quantitative", "scale": {"domain": [0, 24], "nice": false}, "axis": null},
        "y": {"field": "a", "type": "quantitative", "scale": {"domain": [-90, 90], "nice": false}, "axis": null}
      },
      "layer": [
        {
          "data": {"values": [{"t": 0, "a": 0}]},
          "mark": {"type": "point", "opacity": 0},
          "encoding": {
            "x": {"field": "t", "type": "quantitative", "scale": {"domain": [0, 24], "nice": false},
              "axis": {"orient": "bottom", "values": [0,1,2,3,4,5,6,7,8,9,10,11,12,13,14,15,16,17,18,19,20,21,22,23,24], "labels": false, "title": null,
                "tickSize": {"condition": {"test": "datum.value % 6 === 0", "value": 8}, "value": 4}}},
            "y": {"field": "a", "type": "quantitative", "scale": {"domain": [-90, 90], "nice": false},
              "axis": {"orient": "left", "values": [-90,-80,-70,-60,-50,-40,-30,-20,-10,0,10,20,30,40,50,60,70,80,90],
                "labelExpr": "datum.value % 30 === 0 ? datum.label : ''", "labelFlush": true, "labelPadding": 1,
                "tickSize": {"condition": {"test": "datum.value % 30 === 0", "value": 8}, "value": 4},
                "title": "Azimuthal angle (deg)", "titleX": -54, "titleY": 138.5, "titleBaseline": "middle"}}
          }
        },
        {
          "data": {"values": [{"t": 0, "a": 0}]},
          "mark": {"type": "point", "opacity": 0},
          "encoding": {
            "x": {"field": "t", "type": "quantitative", "scale": {"domain": [0, 24], "nice": false},
              "axis": {"orient": "top", "values": [0,1,2,3,4,5,6,7,8,9,10,11,12,13,14,15,16,17,18,19,20,21,22,23,24], "labels": false, "title": null,
                "tickSize": {"condition": {"test": "datum.value % 6 === 0", "value": 8}, "value": 4}}},
            "y": {"field": "a", "type": "quantitative", "scale": {"domain": [-90, 90], "nice": false},
              "axis": {"orient": "right", "values": [-90,-80,-70,-60,-50,-40,-30,-20,-10,0,10,20,30,40,50,60,70,80,90], "labels": false, "title": null,
                "tickSize": {"condition": {"test": "datum.value % 30 === 0", "value": 8}, "value": 4}}}
          }
        },
        {
          "data": {"name": "p940"},
          "mark": {"type": "square", "color": "#a020f0", "opacity": 1, "clip": true},
          "encoding": {"size": {"condition": {"test": "datum.a < -76", "value": 44}, "value": 12}}
        },
        {
          "data": {"name": "p540"},
          "mark": {"type": "square", "color": "#0000ff", "opacity": 1, "clip": true},
          "encoding": {"size": {"condition": {"test": "datum.a < -76", "value": 24}, "value": 11}}
        },
        {
          "data": {"name": "ref"},
          "mark": {"type": "line", "strokeWidth": 3.5},
          "encoding": {"stroke": {"field": "b", "type": "nominal", "scale": {"domain": ["S", "J"], "range": ["#ff0000", "#000000"]}, "legend": null}}
        },
        {
          "data": {"name": "cl"},
          "mark": {"type": "square", "size": 12, "opacity": 1},
          "encoding": {"color": {"field": "f", "type": "nominal", "scale": {"domain": ["52","100","120","148","272","540","940","k"], "range": ["#ff0000","#ffa500","#c8c800","#00ee00","#00a5ff","#0000ff","#a020f0","#000000"]}, "legend": null}}
        },
        {
          "data": {"name": "lab"},
          "mark": {"type": "text", "align": "left", "baseline": "middle", "dx": 3, "fontSize": 14, "limit": 46, "ellipsis": ""},
          "encoding": {"text": {"field": "n"}}
        }
      ],
      "resolve": {"axis": {"x": "independent", "y": "independent"}}
    },
    {
      "width": 451,
      "height": 210,
      "encoding": {
        "x": {"field": "t", "type": "quantitative", "scale": {"domain": [0, 24], "nice": false}, "axis": null},
        "y": {"field": "v", "type": "quantitative", "scale": {"type": "log", "domain": [0.001, 1], "nice": false}, "axis": null}
      },
      "layer": [
        {
          "data": {"values": [{"t": 0, "v": 0.01}]},
          "mark": {"type": "point", "opacity": 0},
          "encoding": {
            "x": {"field": "t", "type": "quantitative", "scale": {"domain": [0, 24], "nice": false},
              "axis": {"orient": "bottom", "values": [0,1,2,3,4,5,6,7,8,9,10,11,12,13,14,15,16,17,18,19,20,21,22,23,24],
                "labelExpr": "datum.value % 6 === 0 ? datum.label : ''", "labelFlush": false, "labelPadding": 8,
                "tickSize": {"condition": {"test": "datum.value % 6 === 0", "value": 8}, "value": 4},
                "title": "time - hours on 2005-07-14", "titleY": 48, "titleBaseline": "middle"}},
            "y": {"field": "v", "type": "quantitative", "scale": {"type": "log", "domain": [0.001, 1], "nice": false},
              "axis": {"orient": "left", "values": [1,0.4642,0.2154,0.1,0.04642,0.02154,0.01,0.004642,0.002154,0.001],
                "labelExpr": "indexof([1,0.1,0.01,0.001], datum.value) >= 0 ? format(datum.value, '.3f') : ''", "labelFlush": true, "labelPadding": 1,
                "tickSize": {"condition": {"test": "indexof([1,0.1,0.01,0.001], datum.value) >= 0", "value": 8}, "value": 4},
                "title": "Intensity (microvolt/sqrt(Hz))", "titleX": -54, "titleY": 105, "titleBaseline": "middle"}}
          }
        },
        {
          "data": {"values": [{"t": 0, "v": 0.01}]},
          "mark": {"type": "point", "opacity": 0},
          "encoding": {
            "x": {"field": "t", "type": "quantitative", "scale": {"domain": [0, 24], "nice": false},
              "axis": {"orient": "top", "values": [0,1,2,3,4,5,6,7,8,9,10,11,12,13,14,15,16,17,18,19,20,21,22,23,24], "labels": false, "title": null,
                "tickSize": {"condition": {"test": "datum.value % 6 === 0", "value": 8}, "value": 4}}},
            "y": {"field": "v", "type": "quantitative", "scale": {"type": "log", "domain": [0.001, 1], "nice": false},
              "axis": {"orient": "right", "values": [1,0.4642,0.2154,0.1,0.04642,0.02154,0.01,0.004642,0.002154,0.001], "labels": false, "title": null,
                "tickSize": {"condition": {"test": "indexof([1,0.1,0.01,0.001], datum.value) >= 0", "value": 8}, "value": 4}}}
          }
        },
        {
          "data": {"name": "ser"},
          "mark": {"type": "line", "strokeWidth": 2.5, "clip": true},
          "encoding": {"color": {"field": "f", "type": "nominal", "scale": {"domain": ["52","100","120","148","272","540","940","k"], "range": ["#ff0000","#ffa500","#c8c800","#00ee00","#00a5ff","#0000ff","#a020f0","#000000"]}, "legend": null}}
        }
      ],
      "resolve": {"axis": {"x": "independent", "y": "independent"}}
    },
    {
      "width": 451,
      "height": 21,
      "data": {"name": "leg"},
      "mark": {"type": "text", "align": "left", "baseline": "middle", "fontSize": 14},
      "encoding": {
        "x": {"field": "t", "type": "quantitative", "scale": {"domain": [0, 24], "nice": false}, "axis": null},
        "y": {"field": "r", "type": "quantitative", "scale": {"domain": [0, 1], "nice": false}, "axis": null},
        "text": {"field": "s"},
        "color": {"field": "c", "type": "nominal", "scale": {"domain": ["52","100","120","148","272","540","940","k"], "range": ["#ff0000","#ffa500","#c8c800","#00ee00","#00a5ff","#0000ff","#a020f0","#000000"]}, "legend": null}
      }
    }
  ]
}
